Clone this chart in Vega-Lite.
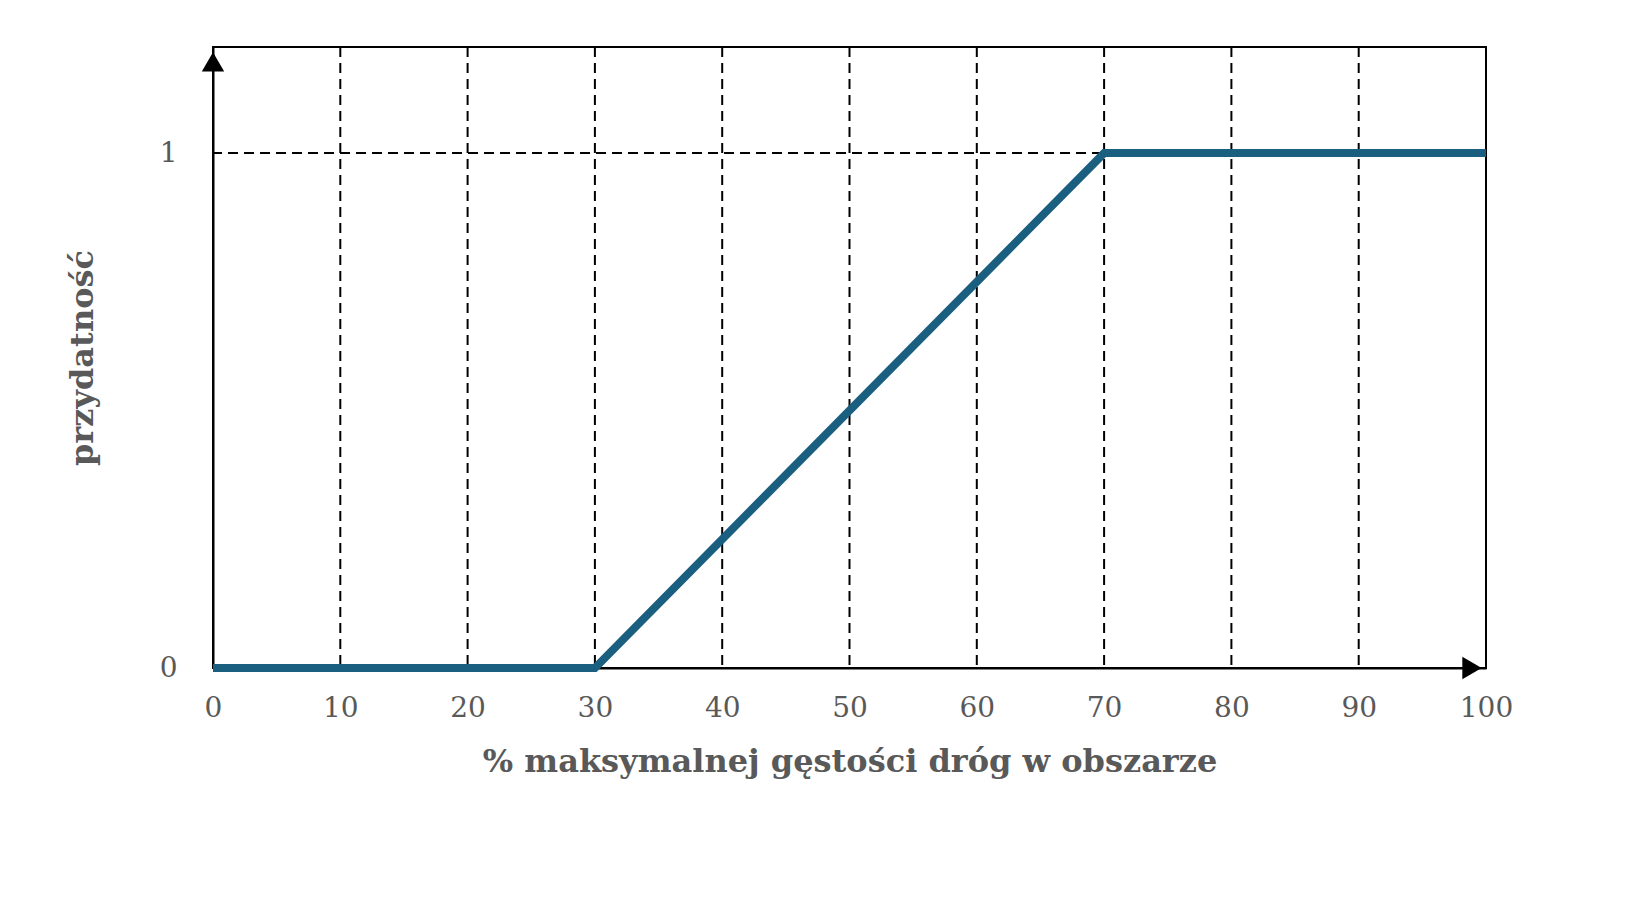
{
"$schema":"https://vega.github.io/schema/vega-lite/v6.json",
"width":1273,"height":621,
"autosize":{"type":"none"},
"padding":{"left":213,"top":47,"right":159,"bottom":238},
"background":"white",
"config":{"view":{"stroke":"black","strokeWidth":2},"font":"DejaVu Serif"},
"datasets":{
"line":[{"x":0,"y":0},{"x":30,"y":0},{"x":70,"y":1},{"x":100,"y":1}],
"vgrid":[{"x":10},{"x":20},{"x":30},{"x":40},{"x":50},{"x":60},{"x":70},{"x":80},{"x":90}],
"arrows":[{"x":0,"y":1.177,"shape":"triangle-up"},{"x":98.9,"y":0,"shape":"triangle-right"}]
},
"layer":[
{"data":{"name":"vgrid"},"mark":{"type":"rule","strokeDash":[10,6],"color":"black","strokeWidth":2},
 "encoding":{"x":{"field":"x","type":"quantitative","scale":{"domain":[0,100],"nice":false},
   "axis":{"values":[0,10,20,30,40,50,60,70,80,90,100],"format":"d","labelFlush":false,"grid":false,"ticks":false,"domainColor":"black","domainWidth":2,"labelFont":"DejaVu Serif","labelFontSize":28,"labelColor":"#595959","labelPadding":26,"title":"% maksymalnej gęstości dróg w obszarze","titleFont":"DejaVu Serif","titleFontSize":32,"titleFontWeight":"bold","titleColor":"#595959","titlePadding":24}}}},
{"data":{"values":[{"y":1}]},"mark":{"type":"rule","strokeDash":[10,6],"color":"black","strokeWidth":2},
 "encoding":{"y":{"field":"y","type":"quantitative","scale":{"domain":[0,1.206],"nice":false,"zero":false},
   "axis":{"values":[0,1],"format":"d","labelFlush":false,"grid":false,"ticks":false,"domainColor":"black","domainWidth":2,"labelFont":"DejaVu Serif","labelFontSize":28,"labelColor":"#595959","labelPadding":36,"title":"przydatność","titleFont":"DejaVu Serif","titleFontSize":32,"titleFontWeight":"bold","titleColor":"#595959","titlePadding":60}}}},
{"data":{"name":"line"},"mark":{"type":"line","color":"#1a5e80","strokeWidth":8},
 "encoding":{"x":{"field":"x","type":"quantitative"},"y":{"field":"y","type":"quantitative"}}},
{"data":{"name":"arrows"},"mark":{"type":"point","filled":true,"color":"black","opacity":1,"size":500,"clip":false},
 "encoding":{"x":{"field":"x","type":"quantitative"},"y":{"field":"y","type":"quantitative"},"shape":{"field":"shape","type":"nominal","scale":null,"legend":null}}}
]
}
